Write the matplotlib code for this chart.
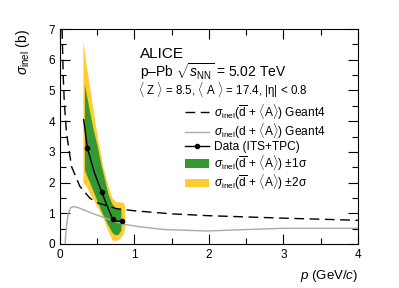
import numpy as np
import matplotlib
matplotlib.use('Agg')
import matplotlib.pyplot as plt
from matplotlib.patches import Patch
from matplotlib.lines import Line2D
from matplotlib.ticker import MultipleLocator

plt.rcParams['font.family'] = ['Liberation Sans', 'DejaVu Sans']
plt.rcParams['mathtext.fontset'] = 'custom'
plt.rcParams['mathtext.rm'] = 'Liberation Sans'
plt.rcParams['mathtext.it'] = 'Liberation Sans:italic'
plt.rcParams['mathtext.bf'] = 'Liberation Sans:bold'

# data points (ITS+TPC)
data_p = [0.37, 0.56, 0.71, 0.84]
data_sigma = [3.12, 1.70, 0.80, 0.74]
# smooth line through the data
line_p = [0.32, 0.37, 0.46, 0.56, 0.65, 0.71, 0.76, 0.84]
line_sigma = [4.05, 3.12, 2.35, 1.70, 1.15, 0.80, 0.74, 0.74]

# +-2 sigma band
band2_p = [0.31, 0.35, 0.40, 0.45, 0.51, 0.58, 0.65, 0.70, 0.75, 0.80, 0.85, 0.87]
band2_lo = [2.00, 1.90, 1.65, 1.45, 1.17, 0.85, 0.40, 0.13, 0.11, 0.17, 0.33, 0.50]
band2_hi = [6.60, 5.90, 5.10, 4.30, 3.40, 2.50, 1.85, 1.50, 1.38, 1.37, 1.35, 1.25]

# +-1 sigma band
band1_p = [0.33, 0.40, 0.45, 0.50, 0.55, 0.60, 0.65, 0.70, 0.74, 0.78, 0.82]
band1_lo = [2.40, 2.00, 1.70, 1.40, 1.10, 0.85, 0.60, 0.38, 0.30, 0.31, 0.45]
band1_hi = [5.20, 4.30, 3.70, 3.20, 2.60, 2.10, 1.60, 1.30, 1.18, 1.16, 1.15]

# Geant4 anti-deuteron
g4_dbar_p = [0.03, 0.045, 0.06, 0.09, 0.157, 0.27, 0.40, 0.49, 0.76, 1.0, 1.5, 2.0, 3.0, 4.0]
g4_dbar_sigma = [7.0, 5.5, 4.6, 3.6, 2.52, 1.87, 1.50, 1.35, 1.15, 1.08, 0.98, 0.92, 0.84, 0.77]

# Geant4 deuteron
g4_d_p = [0.07, 0.09, 0.11, 0.14, 0.18, 0.25, 0.4, 0.6, 0.85, 1.07, 1.4, 1.97, 2.4, 3.0, 4.0]
g4_d_sigma = [0.0, 0.6, 0.95, 1.17, 1.22, 1.18, 1.03, 0.85, 0.64, 0.56, 0.47, 0.42, 0.46, 0.51, 0.51]

green = '#339933'
yellow = '#ffcc33'
grey = '#aaaaaa'

fig = plt.figure(figsize=(3.99, 2.88), dpi=100)
ax = fig.add_axes([0.150, 0.153, 0.747, 0.746])

ax.fill_between(band2_p, band2_lo, band2_hi, color=yellow, lw=0, zorder=1)
ax.fill_between(band1_p, band1_lo, band1_hi, color=green, lw=0, zorder=2)
ax.plot(g4_dbar_p, g4_dbar_sigma, color='k', lw=1.0, dashes=(7, 4), zorder=3)
ax.plot(g4_d_p, g4_d_sigma, color=grey, lw=1.0, zorder=3)
ax.plot(line_p, line_sigma, color='k', lw=1.0, zorder=4)
ax.plot(data_p, data_sigma, 'o', color='k', ms=3, zorder=5)

ax.set_xlim(0, 4)
ax.set_ylim(0, 7)
ax.xaxis.set_major_locator(MultipleLocator(1))
ax.xaxis.set_minor_locator(MultipleLocator(0.5))
ax.yaxis.set_major_locator(MultipleLocator(1))
ax.yaxis.set_minor_locator(MultipleLocator(0.5))
ax.tick_params(which='both', direction='in', top=True, right=True, labelsize=8.5)
ax.tick_params(which='major', length=7, width=0.8)
ax.tick_params(which='minor', length=4, width=0.8)
for s in ax.spines.values():
    s.set_linewidth(0.8)

ax.set_xlabel(r'$p$ (GeV/$c$)', fontsize=9.5, loc='right', labelpad=5)
ax.set_ylabel(r'$\sigma_{\rm inel}$ (b)', fontsize=10, loc='top', labelpad=12)

ax.text(0.27, 0.865, 'ALICE', transform=ax.transAxes, fontsize=11, va='baseline')
ax.text(0.27, 0.775, r'p–Pb $\sqrt{s_{\rm NN}}$ = 5.02 TeV', transform=ax.transAxes,
        fontsize=10, va='baseline')
ax.text(0.262, 0.693, r'$\langle$ Z $\rangle$ = 8.5, $\langle$ A $\rangle$ = 17.4, |η| < 0.8',
        transform=ax.transAxes, fontsize=8.3, va='baseline')

lab_dbar = r'$\sigma_{\rm inel}(\overline{\rm d}$ + $\langle$A$\rangle$)'
lab_d = r'$\sigma_{\rm inel}($d + $\langle$A$\rangle$)'
handles = [
    Line2D([], [], color='k', lw=1.0, dashes=(7, 4)),
    Line2D([], [], color=grey, lw=1.0),
    Line2D([], [], color='k', lw=1.0, marker='o', ms=3),
    Patch(color=green, lw=0),
    Patch(color=yellow, lw=0),
]
labels = [lab_dbar + ' Geant4', lab_d + ' Geant4', 'Data (ITS+TPC)',
          lab_dbar + r' $\pm$1σ', lab_dbar + r' $\pm$2σ']
ax.legend(handles, labels, loc='upper left', bbox_to_anchor=(0.42, 0.66), frameon=False,
          fontsize=8.6, handlelength=2.0, handleheight=0.7, handletextpad=0.4,
          labelspacing=0.0, borderpad=0.0, borderaxespad=0.0)

fig.savefig('out.png', dpi=100)
